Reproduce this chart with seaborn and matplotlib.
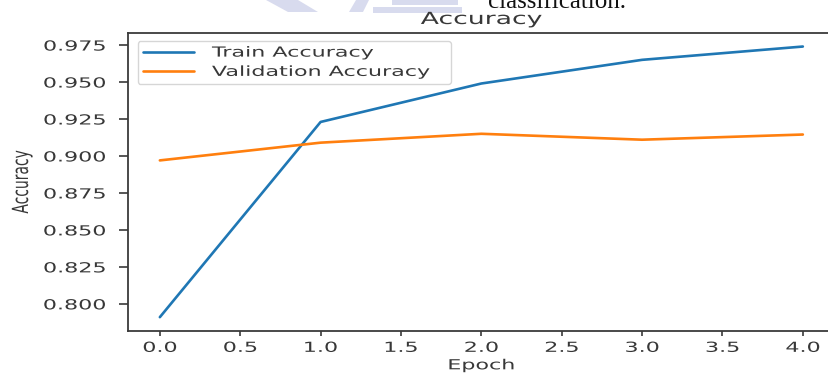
import matplotlib
matplotlib.use("Agg")
import matplotlib.pyplot as plt
import pandas as pd
import seaborn as sns
from matplotlib.patheffects import AbstractPathEffect
from matplotlib.transforms import Affine2D
from matplotlib.patches import Polygon

# ---- data -------------------------------------------------------------
epochs = [0, 1, 2, 3, 4]
train_acc = [0.791, 0.923, 0.949, 0.965, 0.974]
val_acc = [0.897, 0.909, 0.915, 0.911, 0.9145]
series_names = ["Train Accuracy", "Validation Accuracy"]
series_colors = ["#1f77b4", "#ff7f0e"]
x_ticks = [0.0, 0.5, 1.0, 1.5, 2.0, 2.5, 3.0, 3.5, 4.0]
y_ticks = [0.800, 0.825, 0.850, 0.875, 0.900, 0.925, 0.950, 0.975]
title_text = "Accuracy"
x_label = "Epoch"
y_label = "Accuracy"
caption_text = "classification."


class Widen(AbstractPathEffect):
    """Draw text glyphs stretched by `sx` across the page, about an anchor."""

    def __init__(self, sx=1.6, anchor="center", local_axis="x"):
        super().__init__()
        self.sx = sx
        self.anchor = anchor
        self.local_axis = local_axis

    def draw_path(self, renderer, gc, tpath, affine, rgbFace=None):
        ext = tpath.get_extents()
        if self.local_axis == "x":
            ref = {"left": ext.x0, "center": 0.5 * (ext.x0 + ext.x1),
                   "right": ext.x1}[self.anchor]
            t = Affine2D().translate(-ref, 0).scale(self.sx, 1).translate(ref, 0)
        else:
            ref = 0.5 * (ext.y0 + ext.y1)
            t = Affine2D().translate(0, -ref).scale(1, self.sx).translate(0, ref)
        renderer.draw_path(gc, tpath, t + affine, rgbFace)


sns.set_style("ticks")
plt.rcParams["font.family"] = ["DejaVu Sans"]
TEXT = "#383838"
SPINE = "#3a3a3a"
SX = 1.6

W, H = 829, 374
fig = plt.figure(figsize=(W / 100, H / 100), dpi=100)
fig.patch.set_facecolor("white")

# axes box (right edge runs just past the canvas)
left_px, right_px, top_px, bottom_px = 127.7, 835.0, 33.0, 330.7
ax = fig.add_axes([left_px / W, 1 - bottom_px / H,
                   (right_px - left_px) / W, (bottom_px - top_px) / H])

df = pd.DataFrame({
    "Epoch": epochs * 2,
    "Accuracy": train_acc + val_acc,
    "Series": [series_names[0]] * len(epochs) + [series_names[1]] * len(epochs),
})
sns.lineplot(data=df, x="Epoch", y="Accuracy", hue="Series",
             hue_order=series_names, palette=series_colors,
             linewidth=1.9, legend=False, ax=ax)

ax.set_xticks(x_ticks)
ax.set_yticks(y_ticks)
ax.set_xlim(-0.2, 4.2)
ax.margins(y=0.05)

for s in ax.spines.values():
    s.set_color(SPINE)
    s.set_linewidth(1.3)
    s.set_visible(True)

ax.tick_params(axis="y", length=6.7, width=1.2, pad=9.2, labelsize=10,
               colors=SPINE, labelcolor=TEXT)
ax.tick_params(axis="x", length=3.3, width=1.2, pad=4.0, labelsize=10,
               colors=SPINE, labelcolor=TEXT)

for tk in ax.xaxis.get_major_ticks():
    tk.label1.set_path_effects([Widen(SX, "center")])
for tk in ax.yaxis.get_major_ticks():
    tk.label1.set_path_effects([Widen(SX, "right")])

ttl = ax.set_title(title_text, fontsize=12, color=TEXT, pad=6.5)
ttl.set_path_effects([Widen(SX, "center")])

xl = ax.set_xlabel(x_label, fontsize=10, color=TEXT, labelpad=2.5)
xl.set_path_effects([Widen(SX, "center")])

yl = ax.set_ylabel(y_label, fontsize=10, color=TEXT)
ax.yaxis.set_label_coords(-0.1398, 0.5)
yl.set_path_effects([Widen(SX, "center", local_axis="y")])

leg = ax.legend(ax.lines[:2], series_names, loc="upper left",
                bbox_to_anchor=(0.0141, 0.5, 0.443, 0.474), mode="expand",
                borderaxespad=0, handlelength=3.7, handletextpad=1.3,
                borderpad=0.35, labelspacing=0.38, fontsize=10, frameon=True,
                framealpha=0.8, edgecolor="#cccccc", fancybox=True)
for txt in leg.get_texts():
    txt.set_color(TEXT)
    txt.set_path_effects([Widen(SX, "left")])

# page background marks above the figure: pale logo and a caption fragment
mark_color = "#cfd2ea"
logo_shapes = [
    [(266, 0), (298, 0), (318, 12), (288, 12)],
    [(349, 12), (356, 0), (369, 0), (363, 12)],
    [(373, 7), (462, 7), (462, 13), (373, 13)],
    [(392, 0), (458, 0), (458, 5), (392, 5)],
]
for pts in logo_shapes:
    fig.add_artist(Polygon([(x / W, 1 - y / H) for x, y in pts], closed=True,
                           transform=fig.transFigure, facecolor=mark_color,
                           edgecolor="none", alpha=0.8, zorder=0))

fig.text(488 / W, 1 - 8 / H, caption_text, fontsize=18,
         family=["Liberation Serif", "DejaVu Serif"], color="#111111",
         ha="left", va="baseline")

fig.savefig("out.png", dpi=100)
